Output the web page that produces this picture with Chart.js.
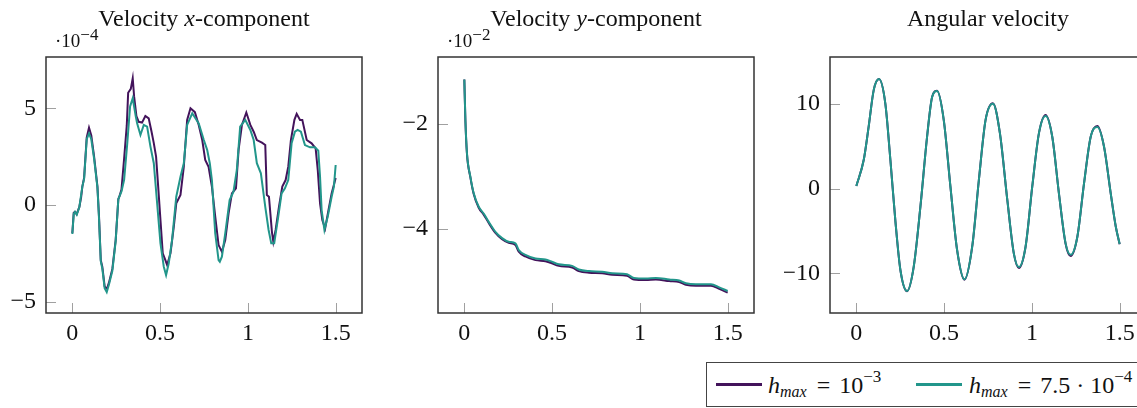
<!DOCTYPE html>
<html>
<head>
<meta charset="utf-8">
<script src="https://cdn.jsdelivr.net/npm/chart.js@4.4.1/dist/chart.umd.min.js"></script>
<style>
  html, body { margin: 0; padding: 0; background: #fff; overflow: hidden; }
  body { width: 1137px; height: 408px; position: relative; font-family: "Liberation Serif", "Times New Roman", serif; color: #111; }
  canvas { position: absolute; top: 0; }
  .title { position: absolute; top: 6px; width: 320px; text-align: center; font-size: 24px; line-height: 24px; white-space: nowrap; }
  .expo { position: absolute; top: 31px; font-size: 19px; line-height: 19px; white-space: nowrap; }
  .expo sup { font-size: 17px; line-height: 0; vertical-align: 7px; }
  #legend { position: absolute; left: 706px; top: 362px; width: 440px; height: 45px; border: 1.5px solid #444; box-sizing: border-box; }
  #legend .sw { position: absolute; top: 20px; width: 46px; height: 3px; }
  #legend .lbl { position: absolute; top: 10px; font-size: 24px; line-height: 24px; white-space: nowrap; }
  #legend .eq { margin: 0 3px 0 4px; }
  #legend sub { font-size: 16px; line-height: 0; vertical-align: -4px; }
  #legend sup { font-size: 17px; line-height: 0; vertical-align: 11px; }
</style>
</head>
<body>
<canvas id="c1" width="370" height="343" style="left:0px"></canvas>
<canvas id="c2" width="370" height="343" style="left:392px"></canvas>
<canvas id="c3" width="370" height="343" style="left:784px"></canvas>

<div class="title" style="left:44px">Velocity <i>x</i>-component</div>
<div class="title" style="left:436px">Velocity <i>y</i>-component</div>
<div class="title" style="left:828px">Angular velocity</div>
<div class="expo" style="left:55px">·10<sup>−4</sup></div>
<div class="expo" style="left:447px">·10<sup>−2</sup></div>

<div id="legend">
  <span class="sw" id="sw1" style="left:9px"></span>
  <span class="lbl" style="left:61px"><i>h</i><sub><i>max</i></sub><span class="eq"> = </span>10<sup>−3</sup></span>
  <span class="sw" id="sw2" style="left:209px"></span>
  <span class="lbl" style="left:262px"><i>h</i><sub><i>max</i></sub><span class="eq"> = </span>7.5 · 10<sup>−4</sup></span>
</div>

<script>
const colorCoarse = '#43135b';
const colorFine = '#22968b';

const xTicks = [0, 0.5, 1, 1.5];
const yTicksVx = [-5, 0, 5];
const yTicksVy = [-4, -2];
const yTicksW = [-10, 0, 10];

// velocity x-component (units of 1e-4)
const vxCoarseT = [0, 0.008, 0.015, 0.025, 0.04, 0.05, 0.057, 0.067, 0.082, 0.095, 0.108, 0.124, 0.143, 0.152, 0.162, 0.171, 0.184, 0.192, 0.2, 0.209, 0.228, 0.247, 0.262, 0.27, 0.28, 0.295, 0.31, 0.318, 0.333, 0.344, 0.352, 0.365, 0.378, 0.397, 0.416, 0.435, 0.451, 0.464, 0.477, 0.489, 0.502, 0.515, 0.53, 0.54, 0.559, 0.578, 0.592, 0.616, 0.635, 0.654, 0.673, 0.698, 0.72, 0.74, 0.757, 0.776, 0.795, 0.814, 0.833, 0.852, 0.871, 0.89, 0.909, 0.932, 0.947, 0.966, 0.991, 1.014, 1.033, 1.051, 1.08, 1.099, 1.108, 1.12, 1.137, 1.145, 1.158, 1.177, 1.196, 1.215, 1.23, 1.245, 1.265, 1.278, 1.297, 1.31, 1.335, 1.363, 1.386, 1.398, 1.411, 1.424, 1.44, 1.459, 1.477, 1.5];
const vxCoarse = [-1.45, -0.4, -0.35, -0.47, -0.1, 0.4, 0.95, 1.4, 3.5, 4.0, 3.6, 2.5, 0.95, -0.6, -2.85, -3.2, -4.2, -4.3, -4.25, -4.0, -3.3, -1.8, 0.3, 0.5, 0.8, 2.4, 4.1, 5.8, 6.0, 6.55, 5.6, 4.6, 4.3, 4.26, 4.6, 4.48, 3.8, 3.2, 2.5, 0.95, -0.78, -2.5, -2.85, -3.1, -2.5, -1.12, 0.09, 0.52, 1.98, 4.4, 5.0, 4.8, 4.14, 3.36, 2.33, 1.98, 0.95, -0.6, -2.07, -2.41, -1.81, -0.43, 0.6, 0.86, 2.85, 4.14, 4.78, 4.14, 3.79, 3.36, 3.22, 3.1, 0.52, 0.43, -1.4, -1.9, -1.29, -0.09, 0.95, 1.29, 1.98, 3.36, 4.4, 4.71, 4.4, 4.4, 3.36, 3.19, 2.93, 1.81, 0.09, -0.78, -1.21, -0.26, 0.6, 1.4];
const vxFineT = [0, 0.008, 0.015, 0.025, 0.04, 0.057, 0.067, 0.082, 0.095, 0.108, 0.124, 0.143, 0.152, 0.162, 0.171, 0.184, 0.196, 0.209, 0.228, 0.247, 0.262, 0.28, 0.295, 0.313, 0.329, 0.344, 0.361, 0.369, 0.388, 0.407, 0.426, 0.445, 0.464, 0.483, 0.502, 0.521, 0.534, 0.549, 0.568, 0.592, 0.616, 0.635, 0.654, 0.683, 0.72, 0.749, 0.768, 0.783, 0.795, 0.814, 0.833, 0.84, 0.852, 0.871, 0.896, 0.918, 0.937, 0.956, 0.985, 1.014, 1.033, 1.051, 1.074, 1.099, 1.118, 1.133, 1.15, 1.173, 1.192, 1.211, 1.23, 1.249, 1.268, 1.283, 1.302, 1.325, 1.354, 1.382, 1.401, 1.411, 1.42, 1.436, 1.455, 1.477, 1.49, 1.5];
const vxFine = [-1.5, -0.45, -0.35, -0.5, -0.1, 0.95, 1.35, 3.4, 3.7, 3.4, 2.4, 0.9, -0.7, -2.9, -3.3, -4.3, -4.5, -4.1, -3.4, -1.85, 0.3, 0.7, 1.3, 3.2, 5.09, 5.52, 4.6, 4.22, 3.62, 4.14, 4.05, 3.02, 2.16, 0.09, -1.98, -3.19, -3.62, -3.02, -1.81, 0.43, 1.46, 2.16, 4.14, 4.74, 4.22, 3.36, 2.85, 2.16, 1.29, -1.47, -2.85, -2.93, -2.67, -1.47, 0.26, 0.69, 1.81, 4.05, 4.4, 3.88, 3.36, 2.16, 1.64, -0.09, -1.29, -1.98, -1.98, -0.6, 0.6, 0.86, 1.29, 3.19, 3.79, 3.88, 3.79, 3.1, 2.98, 2.98, 2.81, 1.46, -0.26, -1.29, -0.6, 0.43, 0.95, 2.07];

// velocity y-component (units of 1e-2)
const vyT = [0, 0.006, 0.015, 0.034, 0.053, 0.082, 0.11, 0.139, 0.177, 0.215, 0.253, 0.291, 0.31, 0.348, 0.405, 0.462, 0.491, 0.538, 0.614, 0.652, 0.71, 0.785, 0.842, 0.927, 0.966, 1.034, 1.091, 1.167, 1.224, 1.262, 1.319, 1.405, 1.452, 1.5];
const vyCoarse = [-1.15, -1.93, -2.57, -3.01, -3.33, -3.6, -3.73, -3.89, -4.08, -4.2, -4.27, -4.31, -4.44, -4.53, -4.6, -4.62, -4.65, -4.71, -4.74, -4.81, -4.84, -4.85, -4.88, -4.9, -4.97, -4.98, -4.97, -5.0, -5.02, -5.07, -5.09, -5.09, -5.15, -5.22];
const vyFine = [-1.15, -1.92, -2.56, -3.0, -3.32, -3.58, -3.71, -3.87, -4.06, -4.18, -4.25, -4.28, -4.41, -4.5, -4.57, -4.59, -4.62, -4.68, -4.71, -4.78, -4.81, -4.82, -4.85, -4.87, -4.94, -4.95, -4.94, -4.97, -4.99, -5.04, -5.06, -5.06, -5.12, -5.19];

// angular velocity
const wT = [0, 0.042, 0.07, 0.099, 0.129, 0.165, 0.194, 0.222, 0.251, 0.289, 0.327, 0.365, 0.403, 0.432, 0.46, 0.498, 0.536, 0.574, 0.616, 0.66, 0.698, 0.736, 0.778, 0.818, 0.86, 0.897, 0.926, 0.964, 1.002, 1.04, 1.078, 1.116, 1.154, 1.192, 1.221, 1.259, 1.297, 1.335, 1.373, 1.411, 1.449, 1.478, 1.5];
const wCoarse = [0.32, 3.39, 7.3, 11.65, 12.95, 10.08, 3.39, -3.7, -9.6, -12.1, -9.2, -2.12, 6.14, 10.86, 11.57, 8.11, 0.24, -7.24, -10.75, -6.85, 1.03, 8.11, 10.1, 6.54, -1.33, -7.63, -9.35, -6.85, 0.24, 6.54, 8.72, 6.14, -0.54, -6.5, -7.95, -5.67, 0.63, 6.14, 7.4, 4.96, -0.54, -4.49, -6.55];
const wFine = [0.32, 3.39, 7.3, 11.65, 12.95, 10.08, 3.39, -3.7, -9.6, -12.08, -9.2, -2.12, 6.14, 10.86, 11.55, 8.11, 0.24, -7.24, -10.7, -6.85, 1.03, 8.11, 10.05, 6.54, -1.33, -7.63, -9.25, -6.85, 0.24, 6.54, 8.58, 6.14, -0.54, -6.45, -7.8, -5.67, 0.63, 6.14, 7.3, 4.96, -0.54, -4.49, -6.53];

const fontFamily = '"Liberation Serif", "Times New Roman", serif';
Chart.defaults.font.family = fontFamily;
const tickFont = { family: fontFamily, size: 24 };
const fmt = v => (v < 0 ? '\u2212' + Math.abs(v) : String(v));

const framePlugin = {
  id: 'frame',
  beforeDatasetsDraw(chart) {
    const { ctx, chartArea: a, scales } = chart;
    ctx.save();
    ctx.strokeStyle = '#a0a0a0';
    ctx.lineWidth = 1;
    scales.x.ticks.forEach(t => {
      const px = Math.round(scales.x.getPixelForValue(t.value)) + 0.5;
      ctx.beginPath(); ctx.moveTo(px, a.bottom); ctx.lineTo(px, a.bottom - 10); ctx.stroke();
    });
    scales.y.ticks.forEach(t => {
      const py = Math.round(scales.y.getPixelForValue(t.value)) + 0.5;
      ctx.beginPath(); ctx.moveTo(a.left, py); ctx.lineTo(a.left + 10, py); ctx.stroke();
    });
    ctx.restore();
  },
  afterDatasetsDraw(chart) {
    const { ctx, chartArea: a } = chart;
    ctx.save();
    ctx.strokeStyle = '#333';
    ctx.lineWidth = 1.5;
    ctx.strokeRect(a.left, a.top, a.right - a.left, a.bottom - a.top);
    ctx.restore();
  }
};

function series(xs, ys, color, order, smooth) {
  return {
    data: xs.map((x, i) => ({ x: x, y: ys[i] })),
    borderColor: color,
    borderWidth: 2,
    pointRadius: 0,
    fill: false,
    tension: 0,
    cubicInterpolationMode: smooth ? 'monotone' : 'default',
    order: order
  };
}

function makeChart(id, datasets, yTicks, yMin, yMax) {
  return new Chart(document.getElementById(id), {
    type: 'line',
    data: { datasets: datasets },
    options: {
      responsive: false,
      animation: false,
      events: [],
      layout: { padding: { top: 57, right: 8, left: 0, bottom: 0 } },
      plugins: { legend: { display: false }, tooltip: { enabled: false } },
      scales: {
        x: {
          type: 'linear', min: -0.15, max: 1.65,
          grid: { display: false, drawTicks: false }, border: { display: false },
          afterBuildTicks: s => { s.ticks = xTicks.map(v => ({ value: v })); },
          afterFit: s => { s.height = 30; },
          ticks: { padding: 6, font: tickFont, color: '#111', callback: fmt, maxRotation: 0, autoSkip: false }
        },
        y: {
          type: 'linear', min: yMin, max: yMax,
          grid: { display: false, drawTicks: false }, border: { display: false },
          afterBuildTicks: s => { s.ticks = yTicks.map(v => ({ value: v })); },
          afterFit: s => { s.width = 46; },
          ticks: { padding: 10, font: tickFont, color: '#111', callback: fmt, autoSkip: false }
        }
      }
    },
    plugins: [framePlugin]
  });
}

makeChart('c1', [
  series(vxCoarseT, vxCoarse, colorCoarse, 2, false),
  series(vxFineT, vxFine, colorFine, 1, false)
], yTicksVx, -5.58, 7.65);

makeChart('c2', [
  series(vyT, vyCoarse, colorCoarse, 2, true),
  series(vyT, vyFine, colorFine, 1, true)
], yTicksVy, -5.61, -0.72);

makeChart('c3', [
  series(wT, wCoarse, colorCoarse, 2, true),
  series(wT, wFine, colorFine, 1, true)
], yTicksW, -14.68, 15.56);

document.getElementById('sw1').style.background = colorCoarse;
document.getElementById('sw2').style.background = colorFine;
</script>
</body>
</html>
